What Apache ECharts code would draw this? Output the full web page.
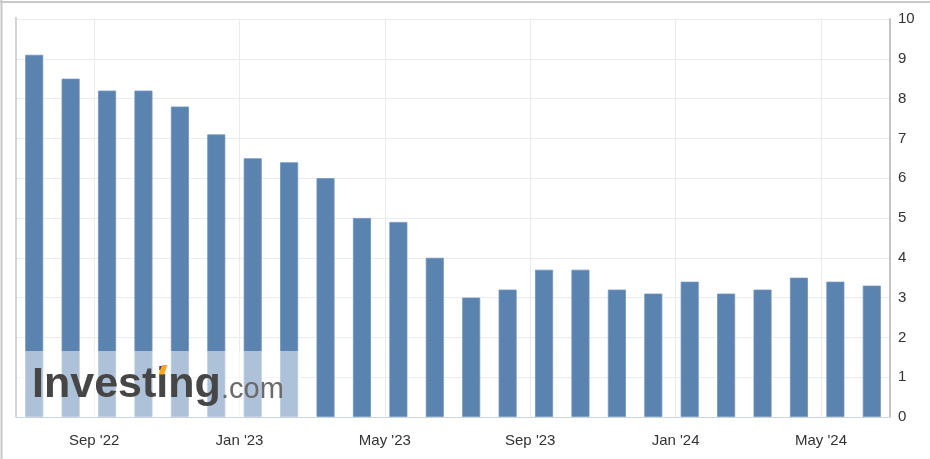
<!DOCTYPE html>
<html>
<head>
<meta charset="utf-8">
<script src="https://cdn.jsdelivr.net/npm/echarts@6/dist/echarts.min.js"></script>
<style>
  html, body { margin: 0; padding: 0; background: #ffffff; }
  #chart { width: 930px; height: 459px; }
</style>
</head>
<body>
<div id="chart"></div>
<script>
// Reference months (one bar per month, Jul 2022 .. Jun 2024)
const categories = [
  'Jul 2022', 'Aug 2022', 'Sep 2022', 'Oct 2022', 'Nov 2022', 'Dec 2022',
  'Jan 2023', 'Feb 2023', 'Mar 2023', 'Apr 2023', 'May 2023', 'Jun 2023',
  'Jul 2023', 'Aug 2023', 'Sep 2023', 'Oct 2023', 'Nov 2023', 'Dec 2023',
  'Jan 2024', 'Feb 2024', 'Mar 2024', 'Apr 2024', 'May 2024', 'Jun 2024'
];
// Bar values
const barValues = [
  9.1, 8.5, 8.2, 8.2, 7.8, 7.1, 6.5, 6.4, 6.0, 5.0, 4.9, 4.0,
  3.0, 3.2, 3.7, 3.7, 3.2, 3.1, 3.4, 3.1, 3.2, 3.5, 3.4, 3.3
];
// X tick labels and their positions (month boundaries counted in months from Jul 2022)
const xTickLabels = ["Sep '22", "Jan '23", "May '23", "Sep '23", "Jan '24", "May '24"];
const xTickPositions = [2, 6, 10, 14, 18, 22];
// Y axis ticks
const yTickLabels = ['0', '1', '2', '3', '4', '5', '6', '7', '8', '9', '10'];

const chart = echarts.init(document.getElementById('chart'), null, { renderer: 'canvas' });

const FONT = '"Liberation Sans", Arial, sans-serif';

const option = {
  animation: false,
  backgroundColor: '#ffffff',
  grid: { left: 16, right: 40, top: 19, bottom: 42, containLabel: false },
  xAxis: [
    {
      type: 'category',
      data: categories,
      boundaryGap: true,
      position: 'bottom',
      axisLine: { show: true, onZero: false, lineStyle: { color: '#ccd6eb', width: 1 } },
      axisTick: { show: false },
      axisLabel: { show: false },
      splitLine: { show: false }
    },
    {
      type: 'value',
      min: -0.15,
      max: 23.9,
      position: 'bottom',
      axisLine: { show: false, onZero: false },
      axisTick: { show: false, customValues: xTickPositions },
      axisLabel: {
        show: true,
        customValues: xTickPositions,
        margin: 16,
        color: '#333333',
        fontFamily: FONT,
        fontSize: 15,
        formatter: function (v) {
          const i = xTickPositions.indexOf(v);
          return i >= 0 ? xTickLabels[i] : '';
        }
      },
      splitLine: { show: true, lineStyle: { color: '#ebebeb', width: 1 } }
    }
  ],
  yAxis: {
    type: 'value',
    position: 'right',
    min: 0,
    max: 10,
    interval: 1,
    axisLine: { show: true, onZero: false, lineStyle: { color: '#b0b0b0', width: 1.5 } },
    axisTick: { show: false },
    axisLabel: {
      margin: 8,
      color: '#333333',
      fontFamily: FONT,
      fontSize: 15,
      formatter: function (v) { return yTickLabels[Math.round(v)]; }
    },
    splitLine: { show: true, lineStyle: { color: '#ececec', width: 1 } }
  },
  series: [
    {
      type: 'bar',
      xAxisIndex: 0,
      data: barValues,
      barWidth: 18,
      itemStyle: { color: '#5b83b0', borderColor: '#6f93bc', borderWidth: 0.8 },
      z: 2
    }
  ],
  graphic: [
    // outer frame (top and left)
    { type: 'line', z: 50, shape: { x1: 0, y1: 2, x2: 930, y2: 2 }, style: { stroke: '#c8c8c8', lineWidth: 2 } },
    { type: 'line', z: 50, shape: { x1: 1.5, y1: 0, x2: 1.5, y2: 459 }, style: { stroke: '#c8c8c8', lineWidth: 2 } },
    // plot area left edge
    { type: 'line', z: 50, shape: { x1: 16, y1: 17, x2: 16, y2: 417 }, style: { stroke: '#c6c6c6', lineWidth: 1.5 } },
    // watermark panel
    { type: 'rect', z: 60, shape: { x: 17, y: 351, width: 284, height: 66 }, style: { fill: 'rgba(255,255,255,0.5)' } },
    { type: 'text', z: 61, style: { x: 32, y: 385, text: 'Investing', font: 'bold 43px ' + FONT, fill: '#464646', verticalAlign: 'middle', align: 'left' } },
    { type: 'text', z: 61, style: { x: 221, y: 390, text: '.com', font: '29px ' + FONT, fill: '#6a6a6a', verticalAlign: 'middle', align: 'left' } },
    { type: 'polygon', z: 62, shape: { points: [[158.5, 374.5], [162, 365], [167.5, 365], [164, 374.5]] }, style: { fill: '#f5a623' } }
  ]
};

chart.setOption(option);
</script>
</body>
</html>
